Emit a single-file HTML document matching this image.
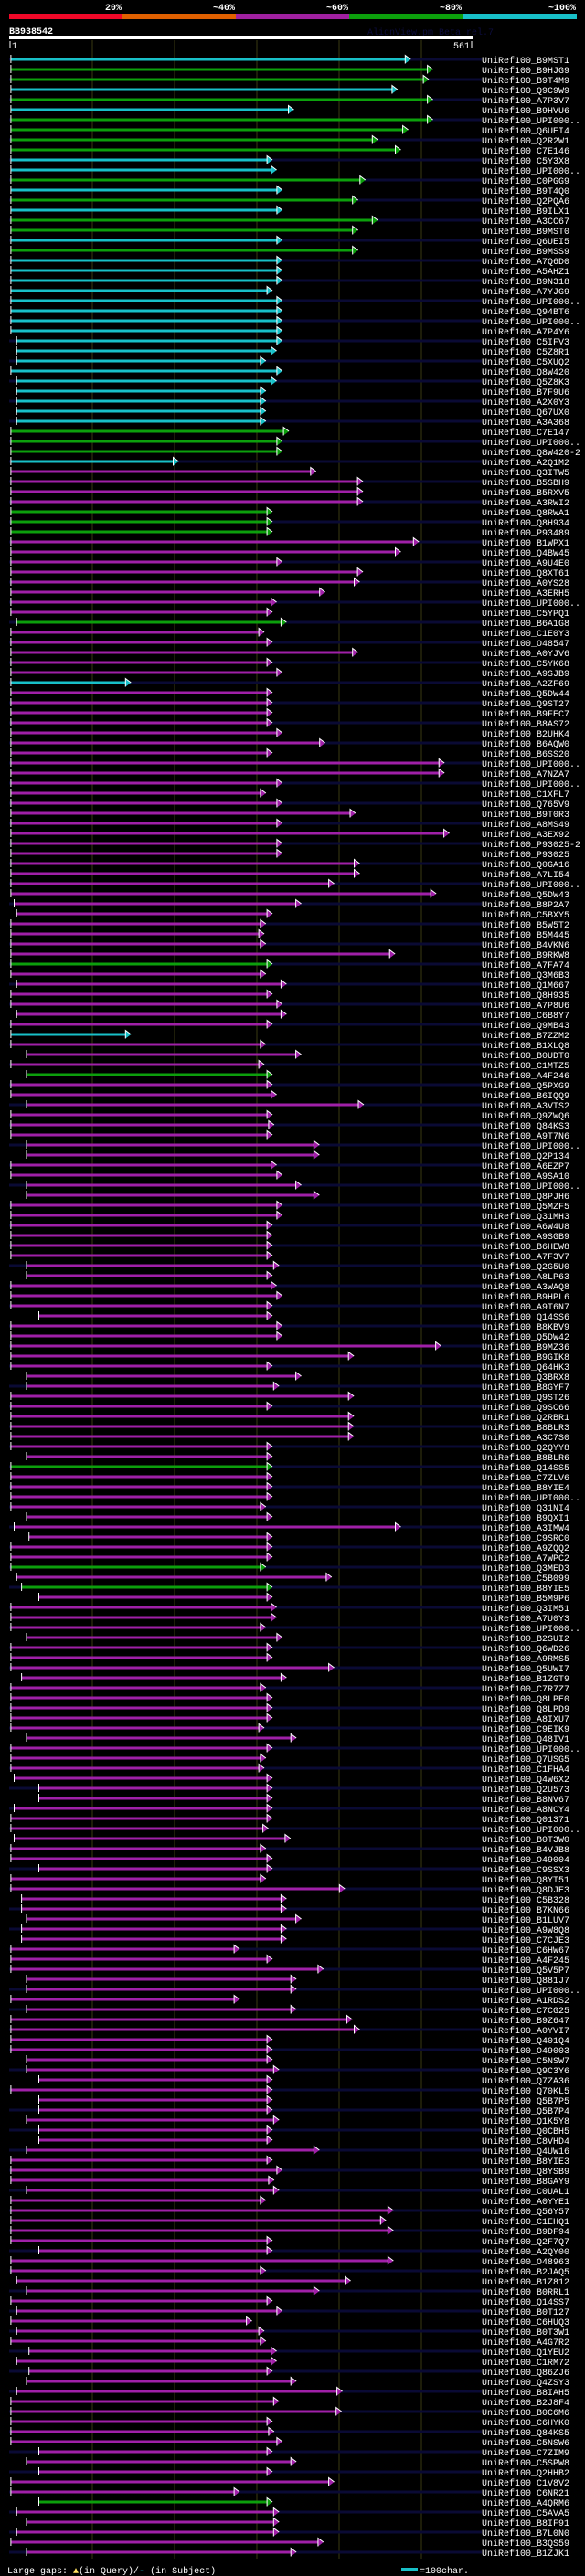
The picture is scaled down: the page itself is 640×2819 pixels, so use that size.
<!DOCTYPE html>
<html><head><meta charset="utf-8"><style>
html,body{margin:0;padding:0;background:#000;}
svg{display:block;}
text{font-family:"Liberation Mono","DejaVu Sans Mono",monospace;}
</style></head><body>
<svg id="chart" width="640" height="2819" viewBox="0 0 640 2819" xmlns="http://www.w3.org/2000/svg">
<rect x="0" y="0" width="640" height="2819" fill="#000"/>
<g>
<rect x="10" y="15" width="124" height="6" fill="#f00828"/>
<rect x="134" y="15" width="124" height="6" fill="#e06000"/>
<rect x="258" y="15" width="124" height="6" fill="#a020a0"/>
<rect x="382" y="15" width="124" height="6" fill="#0ca00c"/>
<rect x="506" y="15" width="125" height="6" fill="#18c0c8"/>
<text x="133" y="11" fill="#fff" font-size="10" font-weight="bold" text-anchor="end">20%</text>
<text x="257" y="11" fill="#fff" font-size="10" font-weight="bold" text-anchor="end">~40%</text>
<text x="381" y="11" fill="#fff" font-size="10" font-weight="bold" text-anchor="end">~60%</text>
<text x="505" y="11" fill="#fff" font-size="10" font-weight="bold" text-anchor="end">~80%</text>
<text x="630" y="11" fill="#fff" font-size="10" font-weight="bold" text-anchor="end">~100%</text>
</g>
<text x="10" y="37" fill="#fff" font-size="10" font-weight="bold">BB938542</text>
<text x="402" y="38" fill="#0c0c3c" font-size="10">AlignView.pm Beta rel.7</text>
<rect x="10" y="39" width="508" height="4" fill="#fff"/>
<line x1="11" y1="45" x2="11" y2="53" stroke="#fff" stroke-width="1"/>
<text x="13" y="53" fill="#fff" font-size="10">1</text>
<text x="514" y="53" fill="#fff" font-size="10" text-anchor="end">561</text>
<line x1="516" y1="45" x2="516" y2="53" stroke="#fff" stroke-width="1"/>
<g id="grid"></g>
<g id="rows"></g>
<g>
<text x="8" y="2816" fill="#fff" font-size="10">Large gaps: <tspan fill="#ffe060">▲</tspan>(in Query)/<tspan fill="#18c0c8">-</tspan> (in Subject)</text>
<rect x="439" y="2810" width="18" height="3" fill="#18c0c8"/>
<text x="459" y="2816" fill="#fff" font-size="10">=100char.</text>
</g>
</svg>
<script>
const colorCodes = ("cggcgcggggccgcgcggcgccccccccccc" +
 "ccccccgggcmmmmgggmmmmmmmmgmmmmm" +
 "cmmmmmmmmmmmmmmmmmmmmmmmmmmmgmm" +
 "mmmmcmmmgmmmmmmmmmmmmmmmmmmmmmm" +
 "mmmmmmmmmmmmmmmmgmmmmmmmmmgmgmm" +
 "mmmmmmmmmmmmmmmmmmmmmmmmmmmmmmm" +
 "mmmmmmmmmmmmmmmmmmmmmmmmmmmmmmm" +
 "mmmmmmmmmmmmmmmmmmmmmmmmmmgmmmmm").split("");
const endPositions = [487,514,509,471,514,345,514,484,447,475,319,324,432,331,423,331,447,423,331,423,331,331,331,319,331,331,331,331,331,324,311,
331,324,311,311,311,311,339,331,331,205,372,429,429,429,319,319,319,497,475,331,429,425,383,324,319,336,309,319,423,319,331,
147,319,319,319,319,331,383,319,528,528,331,311,331,420,331,534,331,331,425,425,394,518,354,319,311,309,311,468,319,311,336,
319,331,336,319,147,311,354,309,319,319,324,430,319,321,319,376,376,324,331,354,376,331,331,319,319,319,319,327,319,324,331,
319,319,331,331,524,418,319,354,327,418,319,418,418,418,319,319,319,319,319,319,311,319,475,319,319,319,311,391,319,319,324,
324,311,331,319,319,394,336,311,319,319,319,309,348,319,311,309,319,319,319,319,319,314,341,311,319,319,311,407,336,336,354,
336,336,279,319,381,348,348,279,348,416,425,319,319,319,327,319,319,319,319,327,319,319,376,319,331,321,327,311,466,457,466,
319,319,466,311,414,376,319,331,294,309,311,324,324,319,348,404,327,403,319,321,331,319,348,319,394,279,319,327,327,327,381,348];
const startRows = [29,30,31,33,34,35,36,37,57,85,86,93,96,100,102,105,109,110,113,114,121,122,126,132,133,140,146,147,148,152,153,154,158,162,168,172,173,174,175,178,181,184,185,186,187,188,192,193,195,200,201,202,204,205,206,207,208,209,213,219,222,223,225,227,229,230,231,232,233,239,240,241,244,245,246,247,249];
const startValues = [8,8,8,8,8,8,8,8,8,5,8,8,8,20,20,20,20,20,20,20,20,20,35,20,20,20,20,5,23,8,14,35,20,14,20,5,35,35,5,5,35,14,14,20,14,14,20,20,20,20,20,35,35,35,20,35,35,20,20,35,8,20,8,8,23,8,23,20,8,35,20,35,35,8,20,8,20];
const labels = ["B9MST1","B9HJG9","B9T4M9","Q9C9W9","A7P3V7","B9HVU6","UPI000..","Q6UEI4","Q2R2W1","C7E146","C5Y3X8","UPI000..","C0PGG9","B9T4Q0","Q2PQA6","B9ILX1","A3CC67","B9MST0","Q6UEI5","B9MSS9","A7Q6D0","A5AHZ1","B9N318","A7YJG9","UPI000..","Q94BT6","UPI000..","A7P4Y6","C5IFV3","C5Z8R1","C5XUQ2",
"Q8W420","Q5Z8K3","B7F9U6","A2X0Y3","Q67UX0","A3A368","C7E147","UPI000..","Q8W420-2","A2Q1M2","Q3ITW5","B5SBH9","B5RXV5","A3RWI2","Q8RWA1","Q8H934","P93489","B1WPX1","Q4BW45","A9U4E0","Q8XT61","A0YS28","A3ERH5","UPI000..","C5YPQ1","B6A1G8","C1E0Y3","O48547","A0YJV6","C5YK68","A9SJB9",
"A2ZF69","Q5DW44","Q9ST27","B9FEC7","B8AS72","B2UHK4","B6AQW0","B6SS20","UPI000..","A7NZA7","UPI000..","C1XFL7","Q765V9","B9T0R3","A8MS49","A3EX92","P93025-2","P93025","Q0GA16","A7LI54","UPI000..","Q5DW43","B8P2A7","C5BXY5","B5W5T2","B5M445","B4VKN6","B9RKW8","A7FA74","Q3M6B3","Q1M667",
"Q8H935","A7P8U6","C6B8Y7","Q9MB43","B7ZZM2","B1XLQ8","B0UDT0","C1MTZ5","A4F246","Q5PXG9","B6IQQ9","A3VTS2","Q9ZWQ6","Q84KS3","A9T7N6","UPI000..","Q2P134","A6EZP7","A9SA10","UPI000..","Q8PJH6","Q5MZF5","Q31MH3","A6W4U8","A9SGB9","B6HEW8","A7F3V7","Q2G5U0","A8LP63","A3WAQ8","B9HPL6",
"A9T6N7","Q14SS6","B8KBV9","Q5DW42","B9MZ36","B9GIK8","Q64HK3","Q3BRX8","B8GYF7","Q9ST26","Q9SC66","Q2RBR1","B8BLR3","A3C7S0","Q2QYY8","B8BLR6","Q14SS5","C7ZLV6","B8YIE4","UPI000..","Q31NI4","B9QXI1","A3IMW4","C9SRC0","A9ZQQ2","A7WPC2","Q3MED3","C5B099","B8YIE5","B5M9P6","Q3IM51",
"A7U0Y3","UPI000..","B2SUI2","Q6WD26","A9RMS5","Q5UWI7","B1ZGT9","C7R7Z7","Q8LPE0","Q8LPD9","A8IXU7","C9EIK9","Q48IV1","UPI000..","Q7USG5","C1FHA4","Q4W6X2","Q2U573","B8NV67","A8NCY4","Q01371","UPI000..","B0T3W0","B4VJB8","O49004","C9SSX3","Q8YT51","Q8DJE3","C5B328","B7KN66","B1LUV7",
"A9W8Q8","C7CJE3","C6HW67","A4F245","Q5V5P7","Q881J7","UPI000..","A1RDS2","C7CG25","B9Z647","A0YVI7","Q401Q4","O49003","C5NSW7","Q9C3Y6","Q7ZA36","Q70KL5","Q5B7P5","Q5B7P4","Q1K5Y8","Q0CBH5","C8VHD4","Q4UW16","B8YIE3","Q8YSB9","B8GAY9","C0UAL1","A0YYE1","Q56Y57","C1EHQ1","B9DF94",
"Q2F7Q7","A2QY00","O48963","B2JAQ5","B1Z812","B0RRL1","Q14SS7","B0T127","C6HUQ3","B0T3W1","A4G7R2","Q1YEU2","C1RM72","Q86ZJ6","Q4ZSY3","B8IAH5","B2J8F4","B0C6M6","C6HYK0","Q84KS5","C5NSW6","C7ZIM9","C5SPW8","Q2HHB2","C1V8V2","C6NR21","A4QRM6","C5AVA5","B8IF91","B7L0N0","B3QS59","B1ZJK1"];
const gridTicks = [100,200,300,400,500];

const NS = "http://www.w3.org/2000/svg";
const palette = {c:"#18c0c8", g:"#0ca00c", m:"#a020a8"};
function xScale(q){ return 11 + 0.9*q; }
function yRow(i){ return 65 + 11*i; }
function mk(tag, attrs, parent){
  const el = document.createElementNS(NS, tag);
  for (const k in attrs) el.setAttribute(k, attrs[k]);
  parent.appendChild(el);
  return el;
}
const grid = document.getElementById("grid");
gridTicks.forEach(function(t){
  const ln = mk("line", {x1:xScale(t), x2:xScale(t), y1:44, y2:2800, stroke:"#3a3a12", "stroke-width":1}, grid);
  
  
});
const rowsG = document.getElementById("rows");
for (let i = 0; i < labels.length; i++) {
  const y = yRow(i);
  const g = mk("g", {}, rowsG);
  
  
  if (i % 2 === 0) mk("rect", {x:10, y:y-1.5, width:517, height:3, fill:"#0a0a34"}, g);
  const si = startRows.indexOf(i+1);
  const s = si >= 0 ? startValues[si] : 1;
  const e = endPositions[i];
  const col = palette[colorCodes[i]];
  const xs = xScale(s), xe = xScale(e);
  const bar = mk("rect", {x:xs, y:y-1.5, width:Math.max(0, xe-6-xs), height:3, fill:col}, g);
  
  
  mk("line", {x1:xs, x2:xs, y1:y-5, y2:y+4, stroke:"#fff", "stroke-width":1}, g);
  const ar = mk("polygon", {points:(xe-6)+","+(y-4.5)+" "+xe+","+y+" "+(xe-6)+","+(y+4.5), fill:col}, g);
  
  
  mk("polyline", {points:(xe-6)+","+(y+4.5)+" "+(xe-6)+","+(y-4.5)+" "+xe+","+y, fill:"none", stroke:"#fff", "stroke-width":1}, g);
  const t = mk("text", {x:527, y:y+4, fill:"#fff", "font-size":10}, g);
  
  
  t.textContent = "UniRef100_" + labels[i];
}
</script>
</body></html>
